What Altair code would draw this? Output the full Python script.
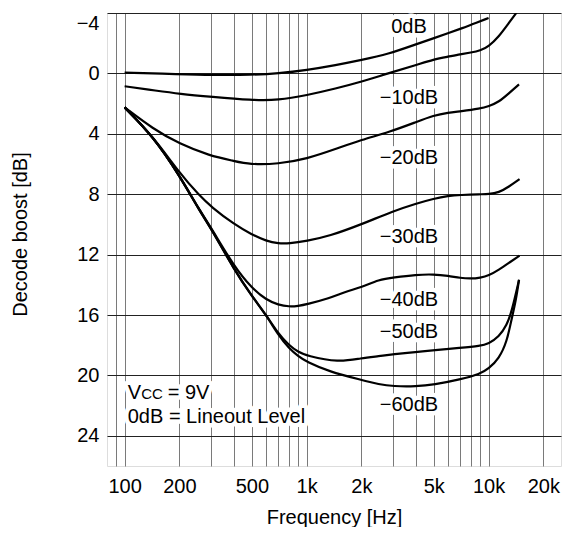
import altair as alt
import pandas as pd

# ---- data ----
f_0 = [100, 200, 300, 500, 700, 1000, 1450, 2000, 2800, 4000, 5000, 6000, 7000, 8000, 10000]
v_0 = [-0.05, 0.05, 0.1, 0.1, 0.0, -0.22, -0.55, -0.89, -1.27, -1.93, -2.33, -2.67, -2.95, -3.22, -3.67]

f_10 = [100, 150, 200, 300, 500, 700, 1000, 1450, 2000, 2800, 4000, 5000, 6000, 7000, 8000, 9000, 10000, 11400, 12900, 14400]
v_10 = [0.85, 1.15, 1.35, 1.55, 1.78, 1.78, 1.45, 1.0, 0.56, 0.0, -0.55, -0.93, -1.11, -1.27, -1.38, -1.51, -1.78, -2.44, -3.33, -4.1]

f_20 = [100, 143, 200, 293, 400, 485, 700, 1000, 1450, 2000, 2840, 4000, 5000, 6000, 7000, 9000, 10000, 11400, 12900, 14700]
v_20 = [2.25, 3.67, 4.67, 5.45, 5.8, 6.03, 6.0, 5.67, 5.0, 4.4, 3.89, 3.22, 2.78, 2.6, 2.51, 2.33, 2.18, 1.89, 1.33, 0.73]

f_30 = [100, 143, 200, 258, 300, 400, 500, 600, 700, 800, 1000, 1330, 2000, 3000, 4000, 5000, 6000, 7000, 9000, 10000, 11400, 12900, 14800]
v_30 = [2.25, 4.15, 6.6, 8.1, 8.85, 10.0, 10.67, 11.1, 11.27, 11.27, 11.1, 10.78, 10.0, 9.11, 8.62, 8.29, 8.11, 8.05, 8.0, 8.0, 7.89, 7.51, 7.0]

f_40 = [100, 143, 200, 258, 300, 400, 500, 600, 700, 800, 900, 1000, 1330, 1640, 2000, 2500, 3000, 4000, 5000, 6000, 7000, 8000, 9000, 10000, 11400, 12900, 14800]
v_40 = [2.25, 4.15, 6.75, 9.05, 10.25, 12.8, 14.22, 15.0, 15.33, 15.45, 15.4, 15.29, 14.9, 14.45, 14.17, 13.65, 13.51, 13.33, 13.3, 13.4, 13.55, 13.6, 13.53, 13.4, 13.0, 12.56, 12.07]

f_50 = [100, 143, 200, 258, 300, 400, 500, 600, 700, 800, 900, 1000, 1500, 2000, 2500, 3000, 4000, 5000, 7000, 9000, 10000, 11400, 12600, 13400, 14700]
v_50 = [2.25, 4.15, 6.75, 9.1, 10.3, 13.0, 14.75, 16.0, 17.25, 18.0, 18.45, 18.7, 19.15, 18.85, 18.73, 18.6, 18.45, 18.33, 18.18, 18.05, 17.9, 17.45, 16.67, 15.78, 13.67]

f_60 = [100, 143, 200, 258, 300, 400, 500, 600, 700, 800, 900, 1000, 1330, 2000, 2500, 3000, 4000, 5000, 7000, 9000, 10000, 11400, 12600, 13400, 14100, 14700]
v_60 = [2.25, 4.15, 6.75, 9.1, 10.3, 13.0, 14.75, 16.0, 17.35, 18.2, 18.73, 19.1, 19.75, 20.3, 20.6, 20.72, 20.73, 20.62, 20.27, 19.9, 19.56, 18.89, 17.78, 16.22, 15.1, 13.67]

series_names = ["0dB", "−10dB", "−20dB", "−30dB", "−40dB", "−50dB", "−60dB"]
series_f = [f_0, f_10, f_20, f_30, f_40, f_50, f_60]
series_v = [v_0, v_10, v_20, v_30, v_40, v_50, v_60]

# curve label positions (frequency, dB at text baseline)
label_f = [3650, 3650, 3650, 3650, 3650, 3650, 3650]
label_db = [-2.67, 2.0, 6.0, 11.23, 15.4, 17.51, 22.33]

note_f = [104]
note1_db = [21.55]
note2_db = [23.16]

grid_x_values = [90, 100, 200, 300, 400, 500, 600, 700, 800, 900,
                 1000, 2000, 3000, 4000, 5000, 6000, 7000, 8000, 9000,
                 10000, 20000]
x_label_values = [100, 200, 500, 1000, 2000, 5000, 10000, 20000]
y_values = [-4, 0, 4, 8, 12, 16, 20, 24]

FONT = "Liberation Sans"

rows = []
for name, fs, vs in zip(series_names, series_f, series_v):
    for f, v in zip(fs, vs):
        rows.append({"series": name, "freq": f, "db": v})
curves_df = pd.DataFrame(rows)

labels_df = pd.DataFrame({"freq": label_f, "db": label_db, "text": series_names})
note_v_df = pd.DataFrame({"freq": note_f, "db": note1_db, "text": ["V"]})
note_cc_df = pd.DataFrame({"freq": note_f, "db": note1_db, "text": ["CC"]})
note_eq_df = pd.DataFrame({"freq": note_f, "db": note1_db, "text": ["= 9V"]})
note2_df = pd.DataFrame({"freq": note_f, "db": note2_db, "text": ["0dB = Lineout Level"]})

x_scale = alt.Scale(type="log", domain=[80, 25000], nice=False)
y_scale = alt.Scale(domain=[-4, 26], reverse=True, nice=False, zero=False)

label_list = "[" + ",".join(str(v) for v in x_label_values) + "]"
x_axis = alt.Axis(
    values=grid_x_values,
    labelExpr=f"indexof({label_list}, datum.value) >= 0 ? (datum.value >= 1000 ? (datum.value / 1000) + 'k' : datum.value + '') : ''",
    grid=True, gridColor="#7a7a7a", gridWidth=1,
    ticks=False, domain=False,
    labelFont=FONT, labelFontSize=20, labelColor="black", labelPadding=10,
    labelFlush=False, labelOverlap=False,
    title="Frequency [Hz]", titleFont=FONT, titleFontSize=20, titleFontWeight="normal",
    titleColor="black", titleY=51, titleBaseline="middle",
)
y_axis = alt.Axis(
    values=y_values,
    grid=True, gridColor="#222222", gridWidth=1,
    ticks=False, domain=False,
    labelFont=FONT, labelFontSize=20, labelColor="black", labelPadding=8,
    labelFlush=True,
    title="Decode boost [dB]", titleFont=FONT, titleFontSize=20, titleFontWeight="normal",
    titleColor="black", titleX=-87, titleY=221, titleBaseline="middle", titleAngle=-90,
)

base_x = alt.X("freq:Q", scale=x_scale, axis=x_axis)
base_y = alt.Y("db:Q", scale=y_scale, axis=y_axis)


def text_pair(df, size, dx=0, align="left"):
    enc = dict(x=alt.X("freq:Q", scale=x_scale), y=alt.Y("db:Q", scale=y_scale), text="text:N")
    halo = alt.Chart(df).mark_text(font=FONT, fontSize=size, dx=dx, align=align,
                                   baseline="alphabetic", fill="white", stroke="white",
                                   strokeWidth=9, strokeJoin="round").encode(**enc)
    txt = alt.Chart(df).mark_text(font=FONT, fontSize=size, dx=dx, align=align,
                                  baseline="alphabetic", color="black").encode(**enc)
    return halo, txt


pairs = [
    text_pair(labels_df, 20, 0, "center"),
    text_pair(note_v_df, 20, 0, "left"),
    text_pair(note_cc_df, 15, 13.5, "left"),
    text_pair(note_eq_df, 20, 40, "left"),
    text_pair(note2_df, 20, 0, "left"),
]

grid_base = alt.Chart(curves_df).mark_line(opacity=0).encode(x=base_x, y=base_y, detail="series:N")

curves = alt.Chart(curves_df).mark_line(
    color="black", strokeWidth=2.2, interpolate="basis", clip=True
).encode(
    x=alt.X("freq:Q", scale=x_scale),
    y=alt.Y("db:Q", scale=y_scale),
    detail="series:N",
)

layers = [grid_base] + [p[0] for p in pairs] + [curves] + [p[1] for p in pairs]

chart = alt.layer(*layers).properties(
    width=454, height=453,
    padding={"left": 99, "top": 5, "right": 5, "bottom": 61},
    autosize=alt.AutoSizeParams(type="none"),
).configure_view(
    stroke="black", strokeWidth=1.5
).configure(background="white")

chart.save("out.html", embed_options={"renderer": "svg", "actions": False})
